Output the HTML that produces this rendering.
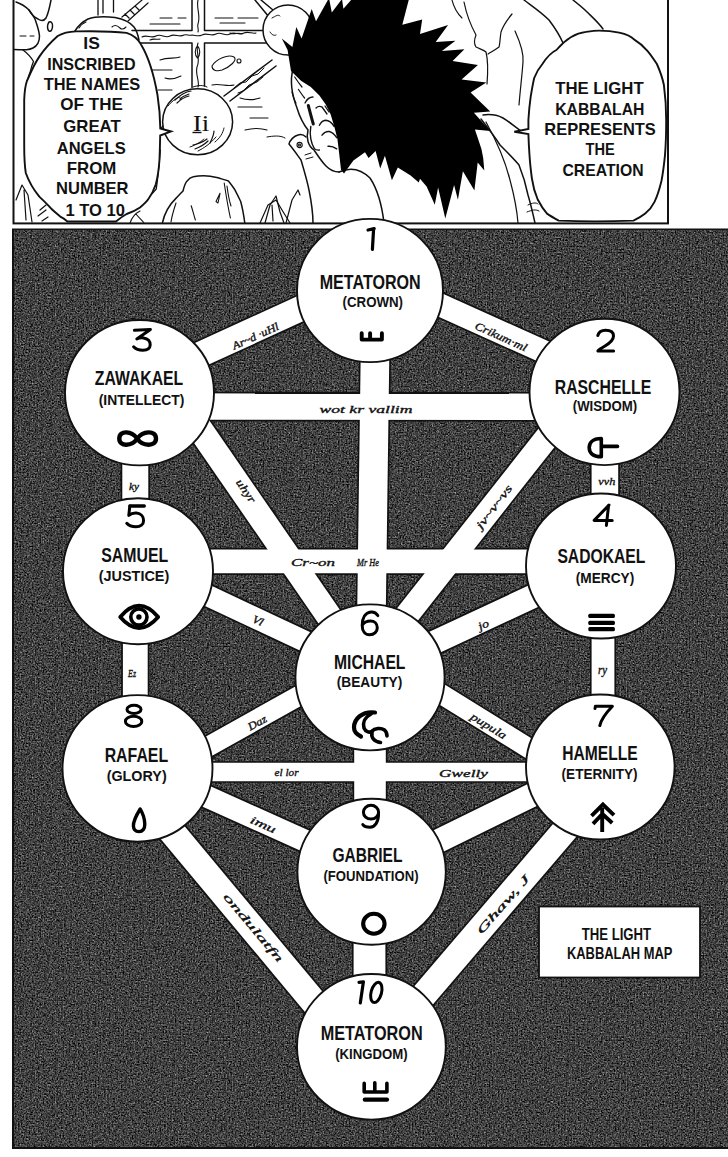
<!DOCTYPE html>
<html><head><meta charset="utf-8"><title>Light Kabbalah</title>
<style>
html,body{margin:0;padding:0;background:#fff;}
body{width:728px;height:1157px;overflow:hidden;position:relative;}
svg{position:absolute;left:0;top:0;display:block;}
text{font-family:"Liberation Sans",sans-serif;fill:#111;}
.serif{font-family:"Liberation Serif",serif;}
</style></head><body>
<svg width="728" height="1157" viewBox="0 0 728 1157">
<rect x="0" y="0" width="728" height="1157" fill="#fff"/>

<g id="top" fill="none" stroke="#111" stroke-width="1.5" stroke-linejoin="round" stroke-linecap="round">
<path d="M16,2 C22,4 26,7 29,10 C32,14 34,17 35,19 C37,25 39,30 39.5,36 C39.5,42 37,46 33,48 C29,50 26,50 14,49.5"/>
<path d="M29,10 C31,14 34,17 38,19 C41,21 44,21 46,18 C48,14 49.5,8 51,0"/>
<path d="M49,22 c-2,3 -2,7 0,9 c2,1 3,-1 3.5,-4 c0.5,-4 -1.5,-6 -3.5,-5 z"/>
<path d="M23,50 C27,53 31,57 33.5,61.5 C32,65 31,68 30.5,71 C29,75 28,78 27,81" stroke-width="1.3"/>
<path d="M20,36 h6 M30,36 h4" stroke-width="1.1"/>
<path d="M75,31 C78,26 82,22 88,19 C95,16.5 105,16.5 115,17.5 C123,19 130,22 134,27 C137,31 138,35 139,40" fill="#fff"/>
<path d="M112,27 c3,-3 6,-1 8,1 c2,2 4,1 6,-1 M79,28 c2,-3 4,-5 7,-6" stroke-width="1.1"/>
<path d="M98,0 V15 M103,0 V13 M113.5,0 V12" stroke-width="1.3"/>
<path d="M122,17 L142,0 M128,21 L148,3 M125,14 l4,4 M130,10 l4,4 M135,6 l4,4" stroke-width="1.2"/>
<path d="M192,0 V30.4 H132 M204.5,0 V30.4 H266 M140,42.9 H192 V87.5 M266,42.9 H204.5 V86 M255,0 L269,17 M261,0 L273,10"/>
<path d="M142,37 c5,-3 9,2 14,-1 c5,-3 9,3 14,0 c5,-3 9,2 14,-1 c3,-1 5,1 8,0 c3,0 6,2 10,0 c5,-3 9,2 14,-1 c5,-3 9,3 14,0 c5,-3 9,2 14,-1 c4,-2 8,1 12,0 M150,40 c4,-2 7,0 10,-1 M230,33 c4,2 8,-1 12,1" stroke-width="1.1"/>
<path d="M198,0 c-2,8 3,16 0,24 c-1,3 1,5 0,8 M198,43 c-3,8 3,16 -1,24 c-2,8 3,14 1,20" stroke-width="1.1"/>
<path d="M224,96 L272,60 M230,101 L276,66" />
<path d="M234,88 l6,-5 l6,-1 l6,-6 l6,-2 l6,-6 M238,93 l5,-2 l6,-6 l8,-3 l6,-5" stroke-width="1"/>
<path d="M197.5,46 c-3,3 -3,9 0,12 c3,-3 3,-9 0,-12 z" stroke-width="1.1"/>
<path d="M160,18 h12 M178,18 h8 M215,18 h18 M238,18 h20 M220,23 h25 M150,24 h30" stroke-width="1.1"/>
<path d="M160,60 c8,-3 14,-1 20,-3 M150,70 h22 M165,78 c6,2 12,0 16,-2 M158,90 h14" stroke-width="1.1"/>
<path d="M212,66 c4,-7 16,-12 22,-9 c4,3 -4,10 -12,13 c-6,2 -10,0 -10,-4 z M237,61 a2,2 0 1,0 4,0 a2,2 0 1,0 -4,0" stroke-width="1.1"/>
<path d="M212,85 c8,-2 14,2 22,0 M240,98 c6,2 14,2 20,0 M238,107 h24 M250,118 h18 M245,130 c8,-2 16,-2 22,0" stroke-width="1.1"/>
<circle cx="288" cy="30" r="25" fill="#fff"/>
<path d="M272,18 c4,-2 6,-4 8,-2 M270,32 c2,3 4,4 6,3" stroke-width="1"/>
<ellipse cx="197.6" cy="121.8" rx="35" ry="33" fill="#fff"/>
<path d="M175,100 c5,-5 10,-8 16,-9 M177,103 c4,-4 8,-6 12,-7 M180,99 c3,-3 6,-4 9,-5 M193,145 c5,-1 10,-3 14,-6 M195,149 c5,-2 9,-4 13,-8 M210,143 c2,-4 4,-8 4,-12" stroke-width="1.2"/>
<path d="M168,106 c3,-4 8,-8 12,-9 M190,147 c6,-2 12,-6 14,-8 M198,151 c6,-3 12,-7 18,-14 M215,142 c5,-4 8,-9 9,-14 M193,87 c6,-2 10,-2 14,0" stroke-width="1"/>
<path d="M163,126 L158,132 L164,131" stroke-width="1.2"/>
<path d="M162.4,223 C164,215 168,206 176.8,197.4 C180,194 182,192 183,191 C184,187 185,183 187.1,181 C189,178.5 191,177.2 193.3,176.8 C197,176 200,175.8 203.6,175.8 C208,175.8 213,176.6 218,177.8 C222,179 226,180 228.4,181 C231,184 233,187 234.5,189.2 C237,194 239,198 240.7,201.5 C243,210 244,217 244.8,223" fill="#fff"/>
<path d="M224.2,183 C226,195 228,207 230.4,218 M227,186 c1,8 2,14 4,20 M216,201.5 L220,193.3 L218,203 z M191.2,205.7 C193,211 194,216 195.4,220 M176,203 c-2,6 -4,12 -5,19" stroke-width="1.1"/>
<path d="M160.3,150 C159,165 158,178 156.2,189.2 C154,192 152,194 150,195.4" stroke-width="1.3"/>
<path d="M265,223 L270,205 L276,196 L280,212 L284,223 M286,223 L292,200 L298,190 L300,195" stroke-width="1.2"/>
<path d="M16,200 L22,185 L28,195 L32,222 M24,190 l2,30 M40,210 l6,-5 M38,216 l8,-6 M42,221 l6,-4" stroke-width="1.2"/>
<path d="M260,223 L268,205 L276,200 L282,210 L290,223 M272,205 l1,16" stroke-width="1.2"/>
<path d="M130,223 c2,-6 6,-10 10,-12 M136,214 c3,4 6,6 8,9" stroke-width="1.1"/>
<path d="M289,144 C290,140 294,136 298,135 C301,134 304,135 306,137 M289,144 C294,150 298,156 301,160 C304,170 307,180 309,190 C311,200 313,212 313,223" />
<path d="M297,145 a2.6,2.6 0 1,0 5.2,0 a2.6,2.6 0 1,0 -5.2,0 M298.5,145 a1,1 0 1,0 2,0 a1,1 0 1,0 -2,0" stroke-width="1.1"/>
<path d="M305,155 l6,-2 M306,159 l7,-2 M285,138 c-5,-3 -12,-2 -18,-1" stroke-width="1"/>
<path d="M293,69 C290,80 292,95 297,108 C300,118 304,125 308,130 C306,138 308,146 314,150 C318,156 322,162 326,166 C330,170 335,172 339,172" />
<path d="M339,172 C352,166 362,170 370,178 C378,190 382,206 384,223" />
<path d="M308.3,105.5 C310,112 311.5,118 313.3,124" stroke-width="3"/>
<path d="M305,103 c2,-4 5,-6 8,-6 M316,108 c2,-2 4,-2 6,-1 M322,107 l5,7 M325,106 l4,6" stroke-width="1.3"/>
<path d="M319.4,125.3 C321,122 323,120.5 325.6,120.3 C329,120.5 332,123 334.3,126.5 M322,135.2 C324,132.5 327,131.3 329.3,131.5 C332.5,132.5 335,135 336.7,137.7 M328,146.3 C331,146 334,147 336.7,148.8" stroke-width="1.4"/>
<path d="M310.8,126.5 C310,131 310,135 310.8,138.9 C311.5,143 313,146.5 314.5,148.8 C316,150 318,150.3 319.4,150" stroke-width="1.4"/>
<path d="M294.7,77 C297,80.5 299.5,84 302,87 M298.4,89.4 C300.5,92.5 302.5,95.5 304.6,98 M292,92 c1,4 2,8 4,11" stroke-width="1.2"/>
<path d="M464,2 C466,12 470,24 476,35 C474,40 474,44 476,47 C480,49 484,50 486,52 C488,60 488,72 487,84" stroke-width="1.2"/>
<path d="M512,14 C507,20 503,26 501,32 C500,38 500,44 499,47 C495,50 491,52 488,54" stroke-width="1.2"/>
<path d="M515,31 C520,42 524,52 523,62 C522,76 520,92 519,105" stroke-width="1.2"/>
<path d="M524,0 C532,6 541,12 549,20 C555,28 560,36 563,43"/>
<path d="M573,0 C578,4 583,8 586,11 C592,17 598,22 603,29"/>
<path d="M483,115 C490,114 497,115 503,118 C510,122 516,128 521,131"/>
<path d="M481,119 C488,128 495,137 500,145 C508,153 515,160 519,165 C523,175 526,185 528,195 C531,205 533,214 535,223"/>
<path d="M486,122 C496,140 505,160 510,180 C514,195 517,210 518,223" stroke-width="1.2"/>
<path d="M528,205 c4,-2 8,-3 10,-1 M527,212 c5,-2 9,-3 12,-1" stroke-width="1"/>
<path d="M452,0 C454,8 458,14 462,18" stroke-width="1.1"/>
</g>
<polygon fill="#000" points="281.8,38.5 292.4,47.1 296.3,26.9 301.6,38.5 311.7,9.1 316.0,21.2 329.0,-2.0 331.8,12.5 342.0,-1.0 343.4,8.7 352.9,-2.0 383.0,-2.0 409.0,-1.0 402.3,24.7 422.2,19.5 420.0,34.1 448.1,25.1 435.7,42.0 455.4,40.8 441.9,51.0 464.4,49.3 452.6,61.1 477.9,65.0 461.6,79.6 486.3,82.4 470.6,92.5 490.2,111.6 473.9,112.8 490.3,131.0 474.9,129.4 478.2,139.3 481.5,149.2 483.2,158.0 484.3,170.6 477.7,162.4 474.4,190.4 462.9,171.2 457.9,199.7 454.1,184.9 445.3,218.4 438.1,187.6 434.8,204.7 426.6,186.5 420.0,178.8 418.8,182.6 410.6,175.6 397.8,167.4 391.9,180.2 384.9,155.7 380.2,168.6 375.6,151.0 368.6,158.0 365.0,152.2 353.4,160.4 344.0,173.5 341.0,169.8 339.2,153.7 337.4,138.9 334.3,126.5 330.6,114.2 325.6,104.3 319.4,95.6 310.8,87.0 301.0,80.8 291.0,71.0 287.6,50.0"/>
<path d="M76,31.4 C95,31 115,31.5 126.6,32.9 C133,35 138,39 141,44.4 C148,56 154,75 157.5,95 C159.5,108 160.2,118 160.3,128.5 L171,131.5 L160.2,135.5 C160,145 159.8,152 159.5,159.5 C158.8,170 157.5,178 155.8,184.2 C153.5,191 151,195.5 148.4,199 C146,202.5 143,205 140,207.5 C135,211 131,212.5 126.6,214 C122,216.5 119,219 116,221.5 L67.4,221.5 C65,219.5 63,218 60.7,216.9 C56,213 52,210 49.4,206.7 C45,202 42,199 39.3,196.6 C36,192.5 33.5,189 31.5,185.4 C28.5,180 26.8,176 25.8,173 C24.5,165 24.2,155 24.2,145 L24.2,100 C24.5,92 25.5,85 27,80.8 C28,79 28.4,78 28.8,77 C35,62 42,50 57.7,36 C63,33 70,31.6 76,31.4 Z" fill="#fff" stroke="#111" stroke-width="1.9"/>
<path d="M599,30.6 C612,30.6 628,33 634.3,39.6 C645,46 651,55 656.9,64 C660,71 662.5,78 663.9,85 C665.5,97 666.2,108 666.2,120 C666.2,133 665.8,145 665,155.1 C664,165 663,173 661.5,180.8 C659.5,189 657.5,196 654.5,201.9 C652,207 649,210.5 645.2,213.6 C641,217 637,219 633.5,220.6 C610,221.5 580,221.5 558.7,220.6 C554,218 550.5,216 547,213.6 C543,209 540,204 537.7,199.5 C534.5,192 532.8,185 531.9,178.5 C530.5,168 529.8,160 529.5,155.1 C529,148 528.6,140 528.4,134.1 L514.3,131.8 L528.4,129 C528.4,124 528.4,122 528.4,120 C529,110 529.8,103 530.7,96.7 C531.8,90 532.8,84 534.2,78 C536.5,72 539,68 542.4,64 C547,57 552,52 556.4,50 C565,40 575,33 586,31.9 C592,31 596,30.6 599,30.6 Z" fill="#fff" stroke="#111" stroke-width="1.9"/>
<text x="91.6" y="48.5" font-size="17.0" text-anchor="middle" textLength="16.5" lengthAdjust="spacingAndGlyphs" font-weight="bold">IS</text>
<text x="91.5" y="69.5" font-size="17.0" text-anchor="middle" textLength="88.5" lengthAdjust="spacingAndGlyphs" font-weight="bold">INSCRIBED</text>
<text x="92.0" y="90.3" font-size="17.0" text-anchor="middle" textLength="96.5" lengthAdjust="spacingAndGlyphs" font-weight="bold">THE NAMES</text>
<text x="91.6" y="109.8" font-size="17.0" text-anchor="middle" textLength="62.5" lengthAdjust="spacingAndGlyphs" font-weight="bold">OF THE</text>
<text x="92.0" y="132.0" font-size="17.0" text-anchor="middle" textLength="57.5" lengthAdjust="spacingAndGlyphs" font-weight="bold">GREAT</text>
<text x="91.2" y="153.5" font-size="17.0" text-anchor="middle" textLength="69.0" lengthAdjust="spacingAndGlyphs" font-weight="bold">ANGELS</text>
<text x="91.6" y="173.8" font-size="17.0" text-anchor="middle" textLength="49.5" lengthAdjust="spacingAndGlyphs" font-weight="bold">FROM</text>
<text x="92.3" y="194.0" font-size="17.0" text-anchor="middle" textLength="72.5" lengthAdjust="spacingAndGlyphs" font-weight="bold">NUMBER</text>
<text x="95.2" y="215.5" font-size="17.0" text-anchor="middle" textLength="59.5" lengthAdjust="spacingAndGlyphs" font-weight="bold">1 TO 10</text>
<text x="599.4" y="93.7" font-size="17.0" text-anchor="middle" textLength="88.5" lengthAdjust="spacingAndGlyphs" font-weight="bold">THE LIGHT</text>
<text x="599.8" y="115.0" font-size="17.0" text-anchor="middle" textLength="89.3" lengthAdjust="spacingAndGlyphs" font-weight="bold">KABBALAH</text>
<text x="600.1" y="134.8" font-size="17.0" text-anchor="middle" textLength="111.5" lengthAdjust="spacingAndGlyphs" font-weight="bold">REPRESENTS</text>
<text x="600.1" y="155.4" font-size="17.0" text-anchor="middle" textLength="29.2" lengthAdjust="spacingAndGlyphs" font-weight="bold">THE</text>
<text x="603.0" y="176.0" font-size="17.0" text-anchor="middle" textLength="81.0" lengthAdjust="spacingAndGlyphs" font-weight="bold">CREATION</text>
<text x="201.0" y="131.2" font-size="23.0" text-anchor="middle" textLength="16.5" lengthAdjust="spacingAndGlyphs" class="serif">Ii</text>
<path d="M192.5,132.5 H201.5" stroke="#111" stroke-width="1.4"/>
<rect x="13.5" y="-10" width="654.5" height="233.4" fill="none" stroke="#111" stroke-width="2"/>
<defs><filter id="tone" color-interpolation-filters="sRGB" x="0" y="0" width="100%" height="100%" filterUnits="objectBoundingBox"><feTurbulence type="fractalNoise" baseFrequency="0.65" numOctaves="2" seed="3" result="n"/><feColorMatrix in="n" type="matrix" values="0.33 0.33 0.33 0 0  0.33 0.33 0.33 0 0  0.33 0.33 0.33 0 0  0 0 0 0 1" result="g"/><feComponentTransfer in="g"><feFuncR type="linear" slope="1.5" intercept="-0.49"/><feFuncG type="linear" slope="1.5" intercept="-0.49"/><feFuncB type="linear" slope="1.5" intercept="-0.49"/></feComponentTransfer></filter></defs>
<rect x="13" y="229.5" width="720" height="918.5" fill="#424242" stroke="#111" stroke-width="2"/>
<rect x="14" y="230.5" width="714" height="916.5" fill="#777" filter="url(#tone)"/>
<g stroke-linecap="butt">
<line x1="400" y1="286.9" x2="570" y2="363.4" stroke="#111" stroke-width="26.2"/>
<line x1="170" y1="368.3" x2="340" y2="290.6" stroke="#111" stroke-width="28.7"/>
<line x1="375.35" y1="330" x2="371.1" y2="640" stroke="#111" stroke-width="32.0"/>
<line x1="180" y1="406.5" x2="570" y2="406.8" stroke="#111" stroke-width="29.7"/>
<line x1="604.9" y1="440" x2="604.9" y2="520" stroke="#111" stroke-width="30.0"/>
<line x1="560.6" y1="420" x2="371.6" y2="660" stroke="#111" stroke-width="27.3"/>
<line x1="135.3" y1="440" x2="135.3" y2="520" stroke="#111" stroke-width="29.4"/>
<line x1="193.6" y1="420" x2="359.1" y2="660" stroke="#111" stroke-width="28.7"/>
<line x1="180" y1="561.3" x2="570" y2="561.3" stroke="#111" stroke-width="27.2"/>
<line x1="400" y1="658.3" x2="570" y2="579.2" stroke="#111" stroke-width="26.9"/>
<line x1="603" y1="620" x2="603" y2="720" stroke="#111" stroke-width="26.2"/>
<line x1="170" y1="577.9" x2="340" y2="657.8" stroke="#111" stroke-width="24.5"/>
<line x1="135.3" y1="620" x2="135.3" y2="720" stroke="#111" stroke-width="28.2"/>
<line x1="400" y1="668.5" x2="570" y2="773.9" stroke="#111" stroke-width="23.2"/>
<line x1="170" y1="768" x2="340" y2="672.8" stroke="#111" stroke-width="23.2"/>
<line x1="370" y1="720" x2="370" y2="830" stroke="#111" stroke-width="35.0"/>
<line x1="180" y1="772" x2="570" y2="772" stroke="#111" stroke-width="21.7"/>
<line x1="400" y1="859.8" x2="570" y2="776.5" stroke="#111" stroke-width="27.1"/>
<line x1="590.6" y1="800" x2="394" y2="1030" stroke="#111" stroke-width="29.3"/>
<line x1="170" y1="780" x2="340" y2="856.5" stroke="#111" stroke-width="25.4"/>
<line x1="145.5" y1="800" x2="337.2" y2="1030" stroke="#111" stroke-width="29.9"/>
<line x1="369.5" y1="920" x2="369.5" y2="1000" stroke="#111" stroke-width="35.2"/>
<line x1="400" y1="286.9" x2="570" y2="363.4" stroke="#fff" stroke-width="22.8"/>
<line x1="170" y1="368.3" x2="340" y2="290.6" stroke="#fff" stroke-width="25.3"/>
<line x1="375.35" y1="330" x2="371.1" y2="640" stroke="#fff" stroke-width="28.6"/>
<line x1="180" y1="406.5" x2="570" y2="406.8" stroke="#fff" stroke-width="26.3"/>
<line x1="604.9" y1="440" x2="604.9" y2="520" stroke="#fff" stroke-width="26.6"/>
<line x1="560.6" y1="420" x2="371.6" y2="660" stroke="#fff" stroke-width="23.9"/>
<line x1="135.3" y1="440" x2="135.3" y2="520" stroke="#fff" stroke-width="26.0"/>
<line x1="193.6" y1="420" x2="359.1" y2="660" stroke="#fff" stroke-width="25.3"/>
<line x1="180" y1="561.3" x2="570" y2="561.3" stroke="#fff" stroke-width="23.8"/>
<line x1="400" y1="658.3" x2="570" y2="579.2" stroke="#fff" stroke-width="23.5"/>
<line x1="603" y1="620" x2="603" y2="720" stroke="#fff" stroke-width="22.8"/>
<line x1="170" y1="577.9" x2="340" y2="657.8" stroke="#fff" stroke-width="21.1"/>
<line x1="135.3" y1="620" x2="135.3" y2="720" stroke="#fff" stroke-width="24.8"/>
<line x1="400" y1="668.5" x2="570" y2="773.9" stroke="#fff" stroke-width="19.8"/>
<line x1="170" y1="768" x2="340" y2="672.8" stroke="#fff" stroke-width="19.8"/>
<line x1="370" y1="720" x2="370" y2="830" stroke="#fff" stroke-width="31.6"/>
<line x1="180" y1="772" x2="570" y2="772" stroke="#fff" stroke-width="18.3"/>
<line x1="400" y1="859.8" x2="570" y2="776.5" stroke="#fff" stroke-width="23.7"/>
<line x1="590.6" y1="800" x2="394" y2="1030" stroke="#fff" stroke-width="25.9"/>
<line x1="170" y1="780" x2="340" y2="856.5" stroke="#fff" stroke-width="22.0"/>
<line x1="145.5" y1="800" x2="337.2" y2="1030" stroke="#fff" stroke-width="26.5"/>
<line x1="369.5" y1="920" x2="369.5" y2="1000" stroke="#fff" stroke-width="31.8"/>
</g>
<ellipse cx="370.0" cy="290.5" rx="73.0" ry="71.6" fill="#fff" stroke="#111" stroke-width="1.9"/>
<ellipse cx="604.5" cy="391.9" rx="75.0" ry="73.2" fill="#fff" stroke="#111" stroke-width="1.9"/>
<ellipse cx="139.5" cy="392.7" rx="74.5" ry="72.7" fill="#fff" stroke="#111" stroke-width="1.9"/>
<ellipse cx="601.0" cy="566.0" rx="75.0" ry="72.5" fill="#fff" stroke="#111" stroke-width="1.9"/>
<ellipse cx="138.0" cy="571.2" rx="75.0" ry="73.0" fill="#fff" stroke="#111" stroke-width="1.9"/>
<ellipse cx="370.0" cy="677.4" rx="74.6" ry="73.0" fill="#fff" stroke="#111" stroke-width="1.9"/>
<ellipse cx="600.3" cy="767.0" rx="74.3" ry="72.5" fill="#fff" stroke="#111" stroke-width="1.9"/>
<ellipse cx="137.5" cy="768.4" rx="75.0" ry="73.3" fill="#fff" stroke="#111" stroke-width="1.9"/>
<ellipse cx="371.6" cy="871.8" rx="74.2" ry="73.0" fill="#fff" stroke="#111" stroke-width="1.9"/>
<ellipse cx="371.4" cy="1046.8" rx="74.4" ry="72.8" fill="#fff" stroke="#111" stroke-width="1.9"/>
<g fill="none" stroke="#000" stroke-linecap="round" stroke-linejoin="round" stroke-width="3">
<path d="M368,230 L374.2,228.6 M373.6,228.8 L372.4,249.3" stroke-width="3.2"/>
<path d="M597.8,335.5 C599,331.5 602,330.3 605.5,330.3 C610.5,330.3 613.5,332.5 613.5,336 C613.5,340 610,343 605,346 C601.5,348 599,349.5 597.9,351 H613.6"/>
<path d="M134.4,330.3 L150.4,329.4 L136.8,339 C139,337.8 141.5,337.6 143.5,337.9 C148,338.5 150.4,341.5 150.2,345 C150,348.5 147,350.2 143,350.2 C139,350.2 135.6,349 133.6,346.8"/>
<path d="M609,505 L594.2,520.4 H612.2 M608.6,505.2 L606.4,525.4"/>
<path d="M130,506 H144.3" stroke-width="3.3"/><path d="M129.8,506 L128.8,515.4 C131,513.6 134,512.9 136.5,513.1 C141,513.5 143.6,516.5 143.6,520.5 C143.6,524.4 140.5,526.8 136,526.8 C131.5,526.8 128.6,525.5 126.8,523.3"/>
<path d="M377.8,615.6 C376,612.6 373.5,611.8 371,612 C365.2,612.6 362.2,618 362.2,625.4 C362.2,631.4 365.2,634.8 369.6,634.8 C374.4,634.8 377.3,631.4 377.3,627.8 C377.3,623.6 374.4,621 370.5,621 C366.6,621 363.7,623 362.5,625" />
<path d="M595,708.6 L595.4,706.3 H612.4 C606,713 601.2,719 599.8,725.6" stroke-width="3"/>
<ellipse cx="134" cy="709.4" rx="7" ry="4.1"/><ellipse cx="133.6" cy="721.4" rx="8.2" ry="5.1"/>
<ellipse cx="371" cy="812.2" rx="7.6" ry="6.9"/><path d="M378.5,814 C378.5,822 375,827.2 370,827.2 C366.5,827.2 364,826.3 362.8,824.6"/>
<path d="M359,982.4 L363.4,981.8 L360.3,1003" stroke-width="3.2"/><ellipse cx="376.3" cy="992.4" rx="5.2" ry="10.3" transform="rotate(15 376.3 992.4)"/>
</g>
<text x="370.2" y="288.5" font-size="19.5" text-anchor="middle" textLength="101.0" lengthAdjust="spacingAndGlyphs" font-weight="bold">METATORON</text>
<text x="603.0" y="393.8" font-size="19.5" text-anchor="middle" textLength="96.5" lengthAdjust="spacingAndGlyphs" font-weight="bold">RASCHELLE</text>
<text x="139.0" y="385.3" font-size="19.5" text-anchor="middle" textLength="88.5" lengthAdjust="spacingAndGlyphs" font-weight="bold">ZAWAKAEL</text>
<text x="601.4" y="563.4" font-size="19.5" text-anchor="middle" textLength="88.0" lengthAdjust="spacingAndGlyphs" font-weight="bold">SADOKAEL</text>
<text x="134.7" y="562.4" font-size="19.5" text-anchor="middle" textLength="67.0" lengthAdjust="spacingAndGlyphs" font-weight="bold">SAMUEL</text>
<text x="369.7" y="669.2" font-size="19.5" text-anchor="middle" textLength="71.5" lengthAdjust="spacingAndGlyphs" font-weight="bold">MICHAEL</text>
<text x="600.0" y="759.5" font-size="19.5" text-anchor="middle" textLength="75.5" lengthAdjust="spacingAndGlyphs" font-weight="bold">HAMELLE</text>
<text x="136.4" y="762.2" font-size="19.5" text-anchor="middle" textLength="63.5" lengthAdjust="spacingAndGlyphs" font-weight="bold">RAFAEL</text>
<text x="367.5" y="862.2" font-size="19.5" text-anchor="middle" textLength="70.0" lengthAdjust="spacingAndGlyphs" font-weight="bold">GABRIEL</text>
<text x="371.7" y="1039.5" font-size="19.5" text-anchor="middle" textLength="102.0" lengthAdjust="spacingAndGlyphs" font-weight="bold">METATORON</text>
<text x="372.8" y="306.5" font-size="14.5" text-anchor="middle" textLength="60.5" lengthAdjust="spacingAndGlyphs" font-weight="bold">(CROWN)</text>
<text x="605.0" y="411.2" font-size="14.5" text-anchor="middle" textLength="64.5" lengthAdjust="spacingAndGlyphs" font-weight="bold">(WISDOM)</text>
<text x="141.5" y="404.6" font-size="14.5" text-anchor="middle" textLength="85.5" lengthAdjust="spacingAndGlyphs" font-weight="bold">(INTELLECT)</text>
<text x="605.0" y="582.6" font-size="14.5" text-anchor="middle" textLength="58.5" lengthAdjust="spacingAndGlyphs" font-weight="bold">(MERCY)</text>
<text x="134.0" y="580.6" font-size="14.5" text-anchor="middle" textLength="70.5" lengthAdjust="spacingAndGlyphs" font-weight="bold">(JUSTICE)</text>
<text x="369.5" y="687.4" font-size="14.5" text-anchor="middle" textLength="65.5" lengthAdjust="spacingAndGlyphs" font-weight="bold">(BEAUTY)</text>
<text x="599.6" y="778.6" font-size="14.5" text-anchor="middle" textLength="76.0" lengthAdjust="spacingAndGlyphs" font-weight="bold">(ETERNITY)</text>
<text x="136.7" y="781.2" font-size="14.5" text-anchor="middle" textLength="60.0" lengthAdjust="spacingAndGlyphs" font-weight="bold">(GLORY)</text>
<text x="371.0" y="881.2" font-size="14.5" text-anchor="middle" textLength="95.0" lengthAdjust="spacingAndGlyphs" font-weight="bold">(FOUNDATION)</text>
<text x="371.4" y="1058.6" font-size="14.5" text-anchor="middle" textLength="72.5" lengthAdjust="spacingAndGlyphs" font-weight="bold">(KINGDOM)</text>
<g fill="#000" stroke="none">
<rect x="588.3" y="613.7" width="26.6" height="4.3" rx="1.5"/><rect x="588.3" y="620.8" width="26.6" height="4.3" rx="1.5"/><rect x="588.3" y="626.9" width="26.6" height="4.4" rx="1.5"/>
</g>
<g fill="none" stroke="#000" stroke-linecap="round" stroke-linejoin="round">
<path d="M361.7,333.2 V339.6 H381.9 V333.2 M370.1,333.2 V339.6" stroke-width="3.9"/>
<path d="M364.2,1083.4 V1092 H386.9 V1083.4 M374.8,1082.8 V1092" stroke-width="3.6"/>
<path d="M364.8,1099.7 H387" stroke-width="4.2"/>
<path d="M601.3,438.5 C592,438.5 589.2,443.5 589.2,447.5 C589.2,452 592,456.8 601.3,456.8 Z M601.3,446.4 H617.5" stroke-width="3.6"/>
<path d="M137.2,438.6 C132,431 119.3,429.5 119.3,438.8 C119.3,447 132,446.5 137.2,438.6 C142.4,431 156,429.5 156,438.8 C156,447 142.4,446.5 137.2,438.6 Z" stroke-width="4.4"/>
<path d="M120.2,617 Q139,594.4 158.2,617 Q139,639 120.2,617 Z" stroke-width="3.8"/>
<circle cx="138.9" cy="617" r="8.1" stroke-width="3.6"/>
<circle cx="138.9" cy="617" r="2.7" fill="#000" stroke="none"/>
<path d="M375,712.5 C362,711 354,719 354,727.5 C354,731.5 357,734.5 361,736.5" stroke-width="4.2"/>
<path d="M371,714 C364.5,717.5 362.5,723 364,728 C365.5,731.5 369,733 372,731.5" stroke-width="3.6"/>
<path d="M371.5,731.5 C375,728 381,727.5 384.5,730 C386.5,731.8 387,734 387,736" stroke-width="3.6"/>
<path d="M372,733 C371,737.5 374,741.5 380.5,742.5" stroke-width="3.6"/>
<path d="M591.5,815.8 L602.9,804.5 L614,815.2 M593,823.8 L602.4,814 L612.2,823 M602.2,808 V832" stroke-width="3.9" stroke-linecap="butt" stroke-linejoin="miter"/>
<path d="M140.2,809 C136.5,815 133.2,820.5 133.4,826 C133.6,830 136,831.6 139,831.6 C142.6,831.6 144.9,829 144.8,824 C144.6,818.5 142.6,813 140.2,809 Z" stroke-width="3.4"/>
<ellipse cx="373.85" cy="923.75" rx="10.7" ry="10" stroke-width="4.1"/>
</g>
<text x="0" y="0" font-size="11.0" text-anchor="middle" class="serif" font-style="italic" transform="translate(257.0 339.5) rotate(-24.5)" textLength="50.0" lengthAdjust="spacingAndGlyphs" style="fill:#111;stroke:#111;stroke-width:0.35">Ar~d ·uHl</text>
<text x="0" y="0" font-size="11.0" text-anchor="middle" class="serif" font-style="italic" transform="translate(499.5 340.0) rotate(24.5)" textLength="56.0" lengthAdjust="spacingAndGlyphs" style="fill:#111;stroke:#111;stroke-width:0.35">Crikum·ml</text>
<text x="0" y="0" font-size="11.0" text-anchor="middle" class="serif" font-style="italic" transform="translate(366.0 413.0) rotate(0.0)" textLength="93.0" lengthAdjust="spacingAndGlyphs" style="fill:#111;stroke:#111;stroke-width:0.35">wot kr vallim</text>
<text x="0" y="0" font-size="11.0" text-anchor="middle" class="serif" font-style="italic" transform="translate(134.0 490.0) rotate(0.0)" textLength="10.0" lengthAdjust="spacingAndGlyphs" style="fill:#111;stroke:#111;stroke-width:0.35">ky</text>
<text x="0" y="0" font-size="11.0" text-anchor="middle" class="serif" font-style="italic" transform="translate(606.8 485.0) rotate(0.0)" textLength="17.0" lengthAdjust="spacingAndGlyphs" style="fill:#111;stroke:#111;stroke-width:0.35">vvh</text>
<text x="0" y="0" font-size="11.0" text-anchor="middle" class="serif" font-style="italic" transform="translate(243.0 493.0) rotate(55.0)" textLength="26.0" lengthAdjust="spacingAndGlyphs" style="fill:#111;stroke:#111;stroke-width:0.35">uhyr</text>
<text x="0" y="0" font-size="11.0" text-anchor="middle" class="serif" font-style="italic" transform="translate(497.0 509.0) rotate(-53.0)" textLength="52.0" lengthAdjust="spacingAndGlyphs" style="fill:#111;stroke:#111;stroke-width:0.35">jv~v~vs</text>
<text x="0" y="0" font-size="11.0" text-anchor="middle" class="serif" font-style="italic" transform="translate(313.0 566.0) rotate(0.0)" textLength="44.0" lengthAdjust="spacingAndGlyphs" style="fill:#111;stroke:#111;stroke-width:0.35">Cr~on</text>
<text x="0" y="0" font-size="11.0" text-anchor="middle" class="serif" font-style="italic" transform="translate(368.0 566.0) rotate(0.0)" textLength="22.0" lengthAdjust="spacingAndGlyphs" style="fill:#111;stroke:#111;stroke-width:0.35">Mr He</text>
<text x="0" y="0" font-size="11.0" text-anchor="middle" class="serif" font-style="italic" transform="translate(256.5 624.0) rotate(25.0)" textLength="11.0" lengthAdjust="spacingAndGlyphs" style="fill:#111;stroke:#111;stroke-width:0.35">Vl</text>
<text x="0" y="0" font-size="11.0" text-anchor="middle" class="serif" font-style="italic" transform="translate(485.0 628.0) rotate(-25.0)" textLength="11.0" lengthAdjust="spacingAndGlyphs" style="fill:#111;stroke:#111;stroke-width:0.35">jo</text>
<text x="0" y="0" font-size="11.0" text-anchor="middle" class="serif" font-style="italic" transform="translate(132.0 677.0) rotate(0.0)" textLength="8.0" lengthAdjust="spacingAndGlyphs" style="fill:#111;stroke:#111;stroke-width:0.35">Ez</text>
<text x="0" y="0" font-size="12.0" text-anchor="middle" class="serif" font-style="italic" transform="translate(602.5 674.0) rotate(0.0)" textLength="9.0" lengthAdjust="spacingAndGlyphs" style="fill:#111;stroke:#111;stroke-width:0.35">ry</text>
<text x="0" y="0" font-size="11.0" text-anchor="middle" class="serif" font-style="italic" transform="translate(259.0 726.0) rotate(-29.0)" textLength="20.0" lengthAdjust="spacingAndGlyphs" style="fill:#111;stroke:#111;stroke-width:0.35">Daz</text>
<text x="0" y="0" font-size="11.0" text-anchor="middle" class="serif" font-style="italic" transform="translate(486.7 729.0) rotate(32.0)" textLength="40.0" lengthAdjust="spacingAndGlyphs" style="fill:#111;stroke:#111;stroke-width:0.35">pupula</text>
<text x="0" y="0" font-size="11.0" text-anchor="middle" class="serif" font-style="italic" transform="translate(286.5 776.0) rotate(0.0)" textLength="24.0" lengthAdjust="spacingAndGlyphs" style="fill:#111;stroke:#111;stroke-width:0.35">el lor</text>
<text x="0" y="0" font-size="11.0" text-anchor="middle" class="serif" font-style="italic" transform="translate(463.5 777.0) rotate(0.0)" textLength="49.0" lengthAdjust="spacingAndGlyphs" style="fill:#111;stroke:#111;stroke-width:0.35">Gwelly</text>
<text x="0" y="0" font-size="11.0" text-anchor="middle" class="serif" font-style="italic" transform="translate(261.7 828.0) rotate(24.0)" textLength="27.0" lengthAdjust="spacingAndGlyphs" style="fill:#111;stroke:#111;stroke-width:0.35">imu</text>
<text x="0" y="0" font-size="11.0" text-anchor="middle" class="serif" font-style="italic" transform="translate(250.5 930.0) rotate(50.0)" textLength="86.0" lengthAdjust="spacingAndGlyphs" style="fill:#111;stroke:#111;stroke-width:0.35">ondulatfn</text>
<text x="0" y="0" font-size="11.0" text-anchor="middle" class="serif" font-style="italic" transform="translate(505.8 907.0) rotate(-49.0)" textLength="74.0" lengthAdjust="spacingAndGlyphs" style="fill:#111;stroke:#111;stroke-width:0.35">Ghaw, J</text>
<rect x="539" y="906.5" width="161" height="71" fill="#fff" stroke="#111" stroke-width="1.8"/>
<text x="616.4" y="939.6" font-size="17.0" text-anchor="middle" textLength="69.5" lengthAdjust="spacingAndGlyphs" font-weight="bold">THE LIGHT</text>
<text x="619.7" y="958.5" font-size="17.0" text-anchor="middle" textLength="105.5" lengthAdjust="spacingAndGlyphs" font-weight="bold">KABBALAH MAP</text>
</svg>
</body></html>
